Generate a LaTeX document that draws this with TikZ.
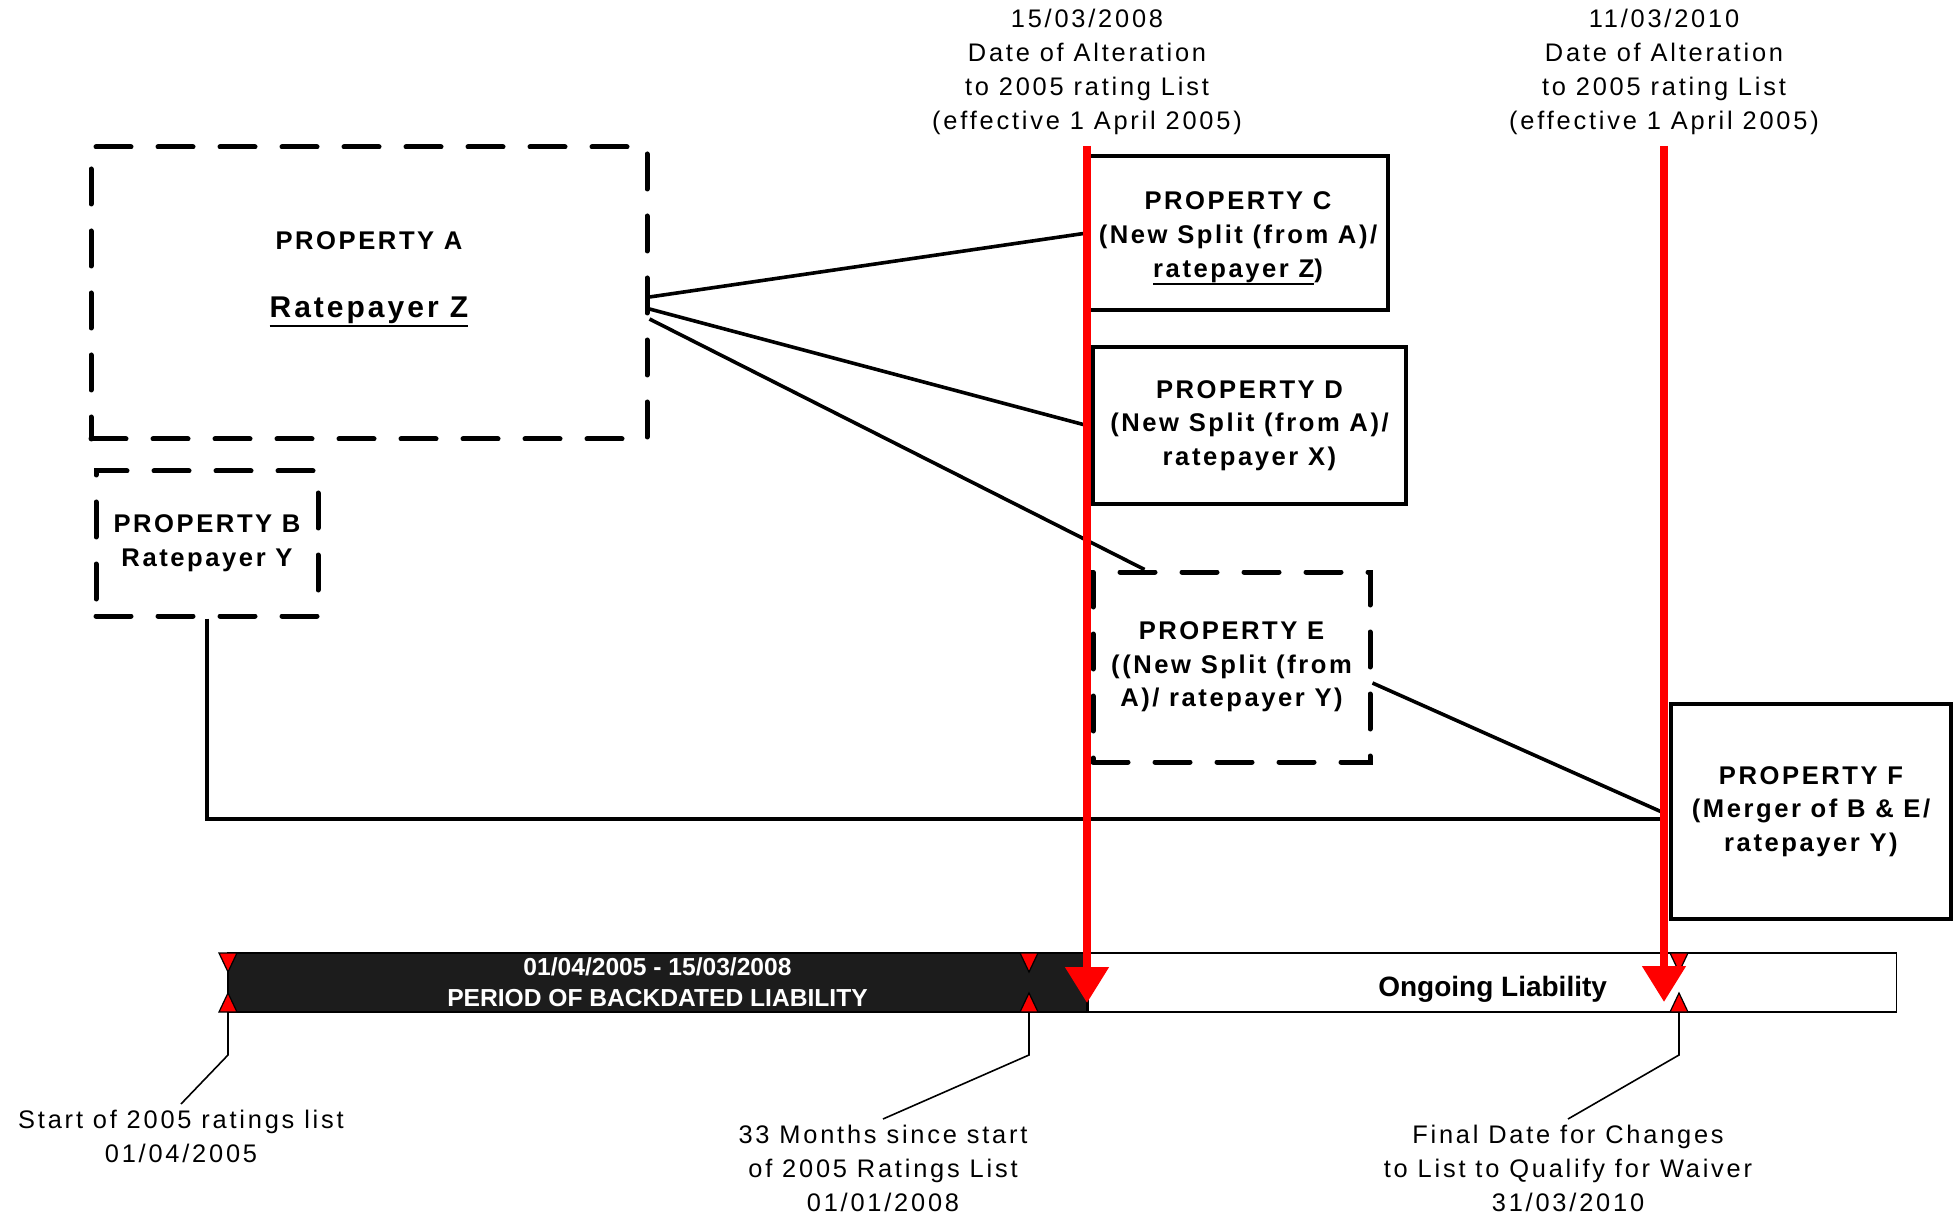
\documentclass[tikz,border=0pt]{standalone}
\usepackage{fontspec}
\setmainfont{Liberation Sans}[LetterSpace=10]
\newfontfamily\barfont{Liberation Sans}
\newfontfamily\lblfont{Liberation Sans}[LetterSpace=11]
\usetikzlibrary{arrows.meta,positioning}
\definecolor{barbk}{HTML}{1C1C1C}
\newcommand{\thul}[1]{\vtop{\hbox{#1}\kern0.3pt\hrule height 1.1pt}}

\begin{document}
\begin{tikzpicture}[x=0.5pt,y=-0.5pt]
\tikzstyle{box}=[rectangle, draw=black, line width=2.2pt, align=center, font=\bfseries\fontsize{12.8}{16.8}\selectfont]
\tikzstyle{dbox}=[box, line width=2.5pt, dash pattern=on 17.5pt off 13.5pt, line cap=round]
\tikzstyle{lbl}=[align=center, inner sep=3pt, font=\lblfont\fontsize{12.7}{17}\selectfont]
\tikzstyle{conn}=[line width=1.8pt]
\tikzstyle{call}=[line width=0.8pt]
\tikzstyle{redln}=[draw=red, line width=4pt, -{Triangle[length=18pt,width=21pt]}]
\tikzstyle{redmk}=[fill=red, draw=black, line width=0.6pt]
\tikzstyle{bar}=[rectangle, draw=black, line width=0.8pt, minimum height=29.5pt, inner sep=0pt, align=center]
\useasboundingbox (0,0) rectangle (1955,1219);

\node (pa) [dbox, minimum width=278pt, minimum height=146pt] at (369,293) {};
\node (pa1) [font=\bfseries\fontsize{12.8}{16}\selectfont] at (369,241) {PROPERTY A};
\node (pa2) [font=\bfseries\fontsize{15}{18}\selectfont] at (369,312) {\thul{Ratepayer Z}};
\node (pb) [dbox, minimum width=111pt, minimum height=72.5pt] at (207,543.5) {PROPERTY B\\Ratepayer Y};
\node (pc) [box, minimum width=150pt, minimum height=77pt] at (1238,233) {\rule{0pt}{14.5pt}PROPERTY C\\(New Split (from A)/\\\thul{ratepayer Z})};
\node (pd) [box, minimum width=156.5pt, minimum height=78.5pt] at (1249.5,425.5) {PROPERTY D\\(New Split (from A)/\\ratepayer X)};
\node (pe) [dbox, minimum width=138.5pt, minimum height=95pt] at (1231.5,667) {PROPERTY E\\((New Split (from\\A)/ ratepayer Y)};
\node (pf) [box, minimum width=140pt, minimum height=107.5pt] at (1811,811.5) {PROPERTY F\\(Merger of B \& E/\\ratepayer Y)};

\coordinate (r1) at (1087,146);
\coordinate (r1e) at (1087,1003);
\coordinate (r2) at (1664,146);
\coordinate (r2e) at (1664,1002);
\coordinate (fj1) at (1664,813);
\coordinate (fj2) at (1664,819);

\draw[conn] ([yshift=-2pt]pa.east) -- (pc.west -| r1);
\draw[conn] ([yshift=-8pt]pa.east) -- (pd.west -| r1);
\draw[conn] ([yshift=-13pt]pa.east) -- ([xshift=27pt]pe.north west);
\draw[conn] ([yshift=-8pt]pe.east) -- (fj1);
\draw[conn] (pb.south) |- (fj2);

\node (bd) [bar, fill=barbk, text=white, minimum width=429.5pt, font=\barfont\bfseries\fontsize{12.3}{15.5}\selectfont] at (657.5,982.5) {01/04/2005 - 15/03/2008\\PERIOD OF BACKDATED LIABILITY};
\node (bl) [bar, fill=white, minimum width=404pt, text height=17pt, text depth=3pt, right=0pt of bd, font=\barfont\bfseries\fontsize{14}{16}\selectfont] {Ongoing Liability};

\foreach \x in {228,1029,1679} {
  \filldraw[redmk] (\x-9,953) -- (\x+9,953) -- (\x,972) -- cycle;
  \filldraw[redmk] (\x-9,1012) -- (\x+9,1012) -- (\x,993) -- cycle;
}

\node (t1) [lbl, anchor=south, above=2.5pt of r1] {15/03/2008\\Date of Alteration\\to 2005 rating List\\(effective 1 April 2005)};
\node (t2) [lbl, anchor=south, above=2.5pt of r2] {11/03/2010\\Date of Alteration\\to 2005 rating List\\(effective 1 April 2005)};
\draw[redln] (r1) -- (r1e);
\draw[redln] (r2) -- (r2e);

\coordinate (k1) at (228,1012);
\coordinate (k2) at (1029,1012);
\coordinate (k3) at (1679,1012);
\node (ls) [lbl, anchor=north] at (181,1104) {Start of 2005 ratings list\\01/04/2005};
\node (lm) [lbl, anchor=north] at (883,1119) {33 Months since start\\of 2005 Ratings List\\01/01/2008};
\node (lf) [lbl, anchor=north] at (1568,1119) {Final Date for Changes\\to List to Qualify for Waiver\\31/03/2010};
\draw[call] (k1) -- ++(0,43) -- (ls.north);
\draw[call] (k2) -- ++(0,43) -- (lm.north);
\draw[call] (k3) -- ++(0,43) -- (lf.north);
\end{tikzpicture}
\end{document}
